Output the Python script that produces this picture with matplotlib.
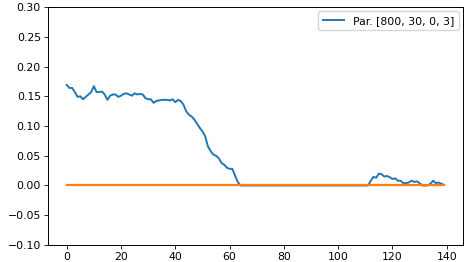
import matplotlib
matplotlib.use("Agg")
import matplotlib.pyplot as plt
import numpy as np

label = "Par. [800, 30, 0, 3]"

vals_0_64 = [0.169, 0.164, 0.164, 0.157, 0.149, 0.150, 0.145, 0.149, 0.153, 0.157,
             0.167, 0.157, 0.157, 0.158, 0.153, 0.144, 0.151, 0.153, 0.153, 0.149,
             0.151, 0.154, 0.155, 0.153, 0.151, 0.155, 0.153, 0.154, 0.153, 0.147,
             0.145, 0.145, 0.139, 0.142, 0.143, 0.144, 0.144, 0.144, 0.143, 0.145,
             0.140, 0.144, 0.142, 0.136, 0.125, 0.119, 0.116, 0.111, 0.104, 0.097,
             0.091, 0.083, 0.066, 0.058, 0.052, 0.050, 0.046, 0.038, 0.035, 0.030,
             0.028, 0.028, 0.017, 0.006, 0.0]
vals_65_110 = [0.0] * 46
vals_111_139 = [0.0, 0.008, 0.0146, 0.013, 0.020, 0.019, 0.015, 0.016, 0.014, 0.011,
                0.012, 0.008, 0.008, 0.004, 0.004, 0.005, 0.008, 0.006, 0.007, 0.004,
                0.0, 0.0, 0.0, 0.003, 0.008, 0.004, 0.005, 0.003, 0.001]
blue = vals_0_64 + vals_65_110 + vals_111_139
x = np.arange(len(blue))
orange = [0.0] * len(blue)

plt.rcParams['font.size'] = 7.8
fig = plt.figure(figsize=(4.69, 2.62), dpi=100)
ax = fig.add_axes([0.102, 0.065, 0.885, 0.908])
ax.plot(x, blue, color='#1f77b4', lw=1.4, label=label)
ax.plot(x, orange, color='#ff7f0e', lw=1.6)
ax.set_ylim(-0.10, 0.30)
ax.set_xticks([0, 20, 40, 60, 80, 100, 120, 140])
ax.set_yticks([-0.10, -0.05, 0.0, 0.05, 0.10, 0.15, 0.20, 0.25, 0.30])
ax.tick_params(length=3, width=0.6, pad=2)
for s in ax.spines.values():
    s.set_linewidth(0.7)
ax.legend(loc='upper right', fontsize=7.8, borderaxespad=0.4)
fig.savefig("out.png", dpi=100)
